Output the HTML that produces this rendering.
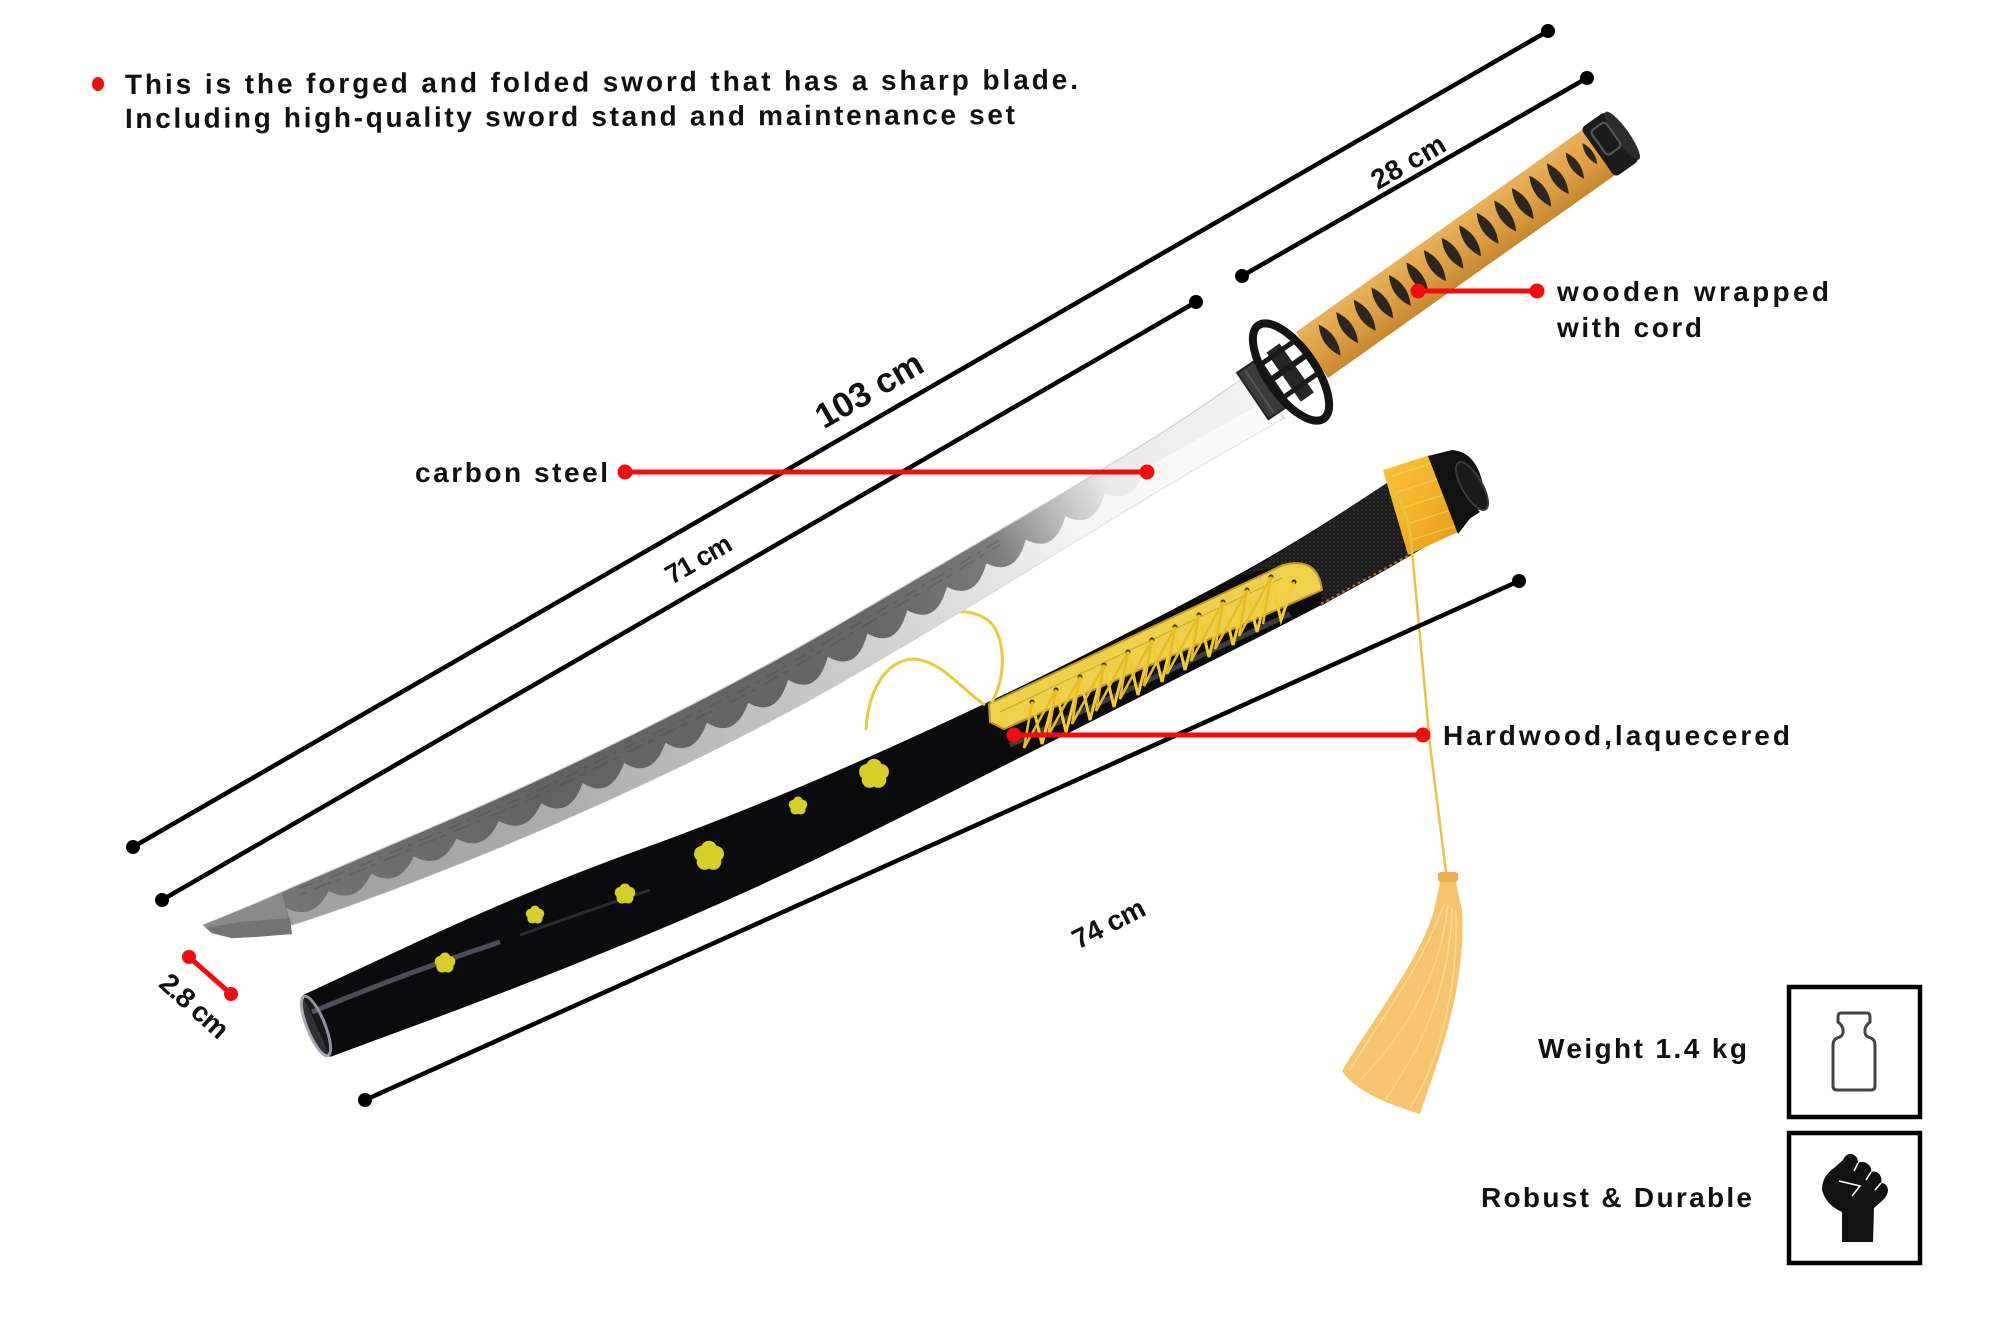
<!DOCTYPE html>
<html><head><meta charset="utf-8">
<style>
html,body{margin:0;padding:0;background:#fff;}
svg{display:block;}
text{font-family:"Liberation Sans",sans-serif;font-weight:bold;fill:#111;}
</style></head><body>
<svg width="2000" height="1331" viewBox="0 0 2000 1331" xmlns="http://www.w3.org/2000/svg">
<defs>
<linearGradient id="g1" gradientUnits="userSpaceOnUse" x1="200" y1="925" x2="1290" y2="380">
<stop offset="0" stop-color="#858585"/><stop offset="0.07" stop-color="#747474"/><stop offset="0.3" stop-color="#626262"/><stop offset="0.6" stop-color="#666666"/><stop offset="0.72" stop-color="#7a7a7a"/><stop offset="0.78" stop-color="#bcbcbc"/><stop offset="0.83" stop-color="#ebebeb"/><stop offset="1" stop-color="#f3f3f3"/>
</linearGradient>
<linearGradient id="g2" gradientUnits="userSpaceOnUse" x1="200" y1="925" x2="1290" y2="380">
<stop offset="0" stop-color="#9c9c9c"/><stop offset="0.3" stop-color="#acacac"/><stop offset="0.55" stop-color="#c8c8c8"/><stop offset="0.7" stop-color="#e2e2e2"/><stop offset="0.8" stop-color="#f6f6f6"/><stop offset="1" stop-color="#fbfbfb"/>
</linearGradient>
<linearGradient id="hg" x1="0" y1="0" x2="0" y2="1">
<stop offset="0" stop-color="#e8b25a"/><stop offset="0.5" stop-color="#dfa044"/><stop offset="1" stop-color="#c68830"/>
</linearGradient>
<linearGradient id="bandg" x1="0" y1="0" x2="1" y2="1">
<stop offset="0" stop-color="#f7c43a"/><stop offset="0.5" stop-color="#f3b22a"/><stop offset="1" stop-color="#e59a18"/>
</linearGradient>
<pattern id="leather" width="4" height="4" patternUnits="userSpaceOnUse"><rect width="4" height="4" fill="#1c1c1c"/><circle cx="2" cy="2" r="0.9" fill="#3b3b3b"/></pattern>
<g id="fl"><circle cx="0" cy="-5" r="5.5"/><circle cx="4.8" cy="-1.5" r="5.5"/><circle cx="3" cy="4" r="5.5"/><circle cx="-3" cy="4" r="5.5"/><circle cx="-4.8" cy="-1.5" r="5.5"/></g>
<clipPath id="bc"><path d="M203,925 L240,910 L295,886 Q350,862 441.5,823 Q533,784 641.5,730 Q750,676 840,623.5 Q930,571 1040,506.5 Q1150,442 1201,407 L1252,372 L1284,418 L1224.5,452 Q1165,486 1056.5,553 Q948,620 856.5,673.5 Q765,727 655,778.5 Q545,830 452.5,866.5 Q360,903 307.5,920 Q255,937 232,938 L212,933 Z"/></clipPath>
</defs>

<!-- ===== SCABBARD ===== -->
<path d="M303,995 L418,941.5 Q533,888 641.5,849 Q750,810 870,756.5 Q990,703 1095,649.5 Q1200,596 1250,568 Q1300,540 1364,498 L1428,456 L1480,512 L1445.5,534 Q1411,556 1366,581 Q1321,606 1224.5,654.5 Q1128,703 1039,748 Q950,793 850,842.5 Q750,892 641.5,937 Q533,982 431.5,1019.5 L330,1057 Z" fill="#0b0b0d"/>
<ellipse cx="316" cy="1026" rx="9" ry="32" transform="rotate(-22 316 1026)" fill="#1a1a1e" stroke="#9da2b0" stroke-width="3" opacity="0.9"/>
<path d="M312,1012 Q400,975 500,942" stroke="#8d93a3" stroke-width="5" fill="none" opacity="0.5"/>
<path d="M520,935 Q590,910 650,890" stroke="#8d93a3" stroke-width="3" fill="none" opacity="0.25"/>
<path d="M1010,745 L1290,614" stroke="#4a4a4e" stroke-width="5" fill="none" opacity="0.8"/>
<!-- flowers -->
<g fill="#d6cf2a">
<use href="#fl" transform="translate(874,774) scale(1.45)"/>
<use href="#fl" transform="translate(798,806) scale(0.9)"/>
<use href="#fl" transform="translate(709,856) scale(1.45)"/>
<use href="#fl" transform="translate(625,894) scale(1)"/>
<use href="#fl" transform="translate(535,915) scale(0.9)"/>
<use href="#fl" transform="translate(445,963) scale(1)"/>
</g>
<!-- leather -->
<path d="M1240,576 L1300,540 L1395,478 L1415,552 L1321,606 L1322,590 Q1318,556 1283,565 Z" fill="url(#leather)"/>
<path d="M1321,604 L1413,553" stroke="#b0702a" stroke-width="2" stroke-dasharray="3,3" fill="none"/>
<!-- plate -->
<path d="M989,704 L1283,565 Q1318,556 1322,590 L1004,729 L990,722 Z" fill="#f0d04a" stroke="#b99a1e" stroke-width="2"/>
<path d="M1000,712 L1282,578" stroke="#c9a82a" stroke-width="1" fill="none"/>
<g fill="#3a3010">
<circle cx="1032" cy="702" r="2.5"/><circle cx="1056" cy="690" r="2.5"/><circle cx="1080" cy="677" r="2.5"/><circle cx="1104" cy="665" r="2.5"/><circle cx="1128" cy="652" r="2.5"/><circle cx="1152" cy="640" r="2.5"/><circle cx="1175" cy="627" r="2.5"/><circle cx="1199" cy="615" r="2.5"/><circle cx="1223" cy="602" r="2.5"/><circle cx="1247" cy="590" r="2.5"/><circle cx="1271" cy="577" r="2.5"/><circle cx="1294" cy="582" r="2.5"/>
</g>
<!-- lacing -->
<polyline fill="none" stroke="#f2cc33" stroke-width="3" points="1032,702 1042,744 1056,690 1066,732 1080,677 1090,720 1104,665 1114,707 1128,652 1138,695 1152,640 1162,682 1175,627 1185,670 1199,615 1209,657 1223,602 1233,645 1247,590 1257,632 1271,577 1281,620 1294,582"/>
<polyline fill="none" stroke="#e6bd28" stroke-width="2.5" points="1032,702 1024,748 1056,690 1048,736 1080,677 1072,724 1104,665 1096,711 1128,652 1120,699 1152,640 1144,686 1175,627 1167,674 1199,615 1191,661 1223,602 1215,649 1247,590 1239,636 1271,577 1263,624"/>
<!-- band -->
<polygon points="1383,470 1430,455 1458,532 1408,555" fill="url(#bandg)"/>
<g stroke="#fbd870" stroke-width="1" opacity="0.7">
<line x1="1392" y1="476" x2="1436" y2="462"/><line x1="1397" y1="492" x2="1441" y2="478"/><line x1="1402" y1="508" x2="1446" y2="494"/><line x1="1407" y1="524" x2="1451" y2="510"/><line x1="1411" y1="540" x2="1455" y2="526"/>
</g>
<!-- cap -->
<path d="M1428,456 L1452,450 Q1478,452 1484,490 Q1484,508 1472,516 L1458,534 Z" fill="#111"/>
<ellipse cx="1472" cy="486" rx="10" ry="27" transform="rotate(-30 1472 486)" fill="#1a1a1a" stroke="#3a3a3a" stroke-width="2"/>
<!-- sageo cords -->
<path d="M991,703 C1006,680 1006,642 992,624 C978,610 958,610 945,614" fill="none" stroke="#ecc93e" stroke-width="3"/>
<path d="M985,705 C962,690 942,661 914,659 C886,660 868,690 866,730" fill="none" stroke="#ecc93e" stroke-width="3"/>
<path d="M1387,482 Q1408,505 1411,540 L1430,745 L1447,880" fill="none" stroke="#e9c245" stroke-width="2.5"/>
<!-- tassel -->
<path d="M1441,878 L1455,878 L1462,910 C1466,985 1442,1050 1420,1114 L1396,1106 C1372,1097 1352,1086 1342,1071 C1372,1020 1420,960 1434,910 Z" fill="#f6c46e"/>
<g stroke="#fbdd9a" stroke-width="1.5" fill="none" opacity="0.8">
<path d="M1448,905 C1440,980 1400,1040 1360,1080"/><path d="M1452,908 C1450,990 1420,1050 1385,1100"/><path d="M1456,910 C1458,990 1440,1060 1410,1108"/><path d="M1444,904 C1420,970 1380,1020 1350,1070"/>
</g>
<rect x="1438" y="872" width="20" height="10" rx="3" fill="#e8ae50"/>

<!-- ===== BLADE ===== -->
<path d="M203,925 L240,910 L295,886 Q350,862 441.5,823 Q533,784 641.5,730 Q750,676 840,623.5 Q930,571 1040,506.5 Q1150,442 1201,407 L1252,372 L1284,418 L1224.5,452 Q1165,486 1056.5,553 Q948,620 856.5,673.5 Q765,727 655,778.5 Q545,830 452.5,866.5 Q360,903 307.5,920 Q255,937 232,938 L212,933 Z" fill="url(#g1)" stroke="#cfcfcf" stroke-width="1.2"/>
<g fill="none" stroke="#4a4a4a" stroke-width="2" opacity="0.3" stroke-dasharray="14 6 4 8">
<polyline points="300,888 351.8,869.4 535.2,792.3 752.7,685.2 933.2,579.8 1000,540"/>
<polyline points="300,895 352.8,873.5 536.4,797 754.2,690.3 934.8,584.4 1000,545" stroke-dasharray="6 9 18 5"/>
</g>
<g clip-path="url(#bc)">
<path transform="translate(1,4)" d="M285,904 Q312,917.5 327.8,887 Q355,901.4 370.4,869.8 Q397.7,885 412.9,852.2 Q440.2,867.4 455.4,834.6 Q482.7,849.8 497.9,817 Q525.1,832.1 540.3,799.2 Q568,816.2 581.7,779.1 Q609.4,796.1 623.1,759 Q650.8,775.9 664.5,738.9 Q692.2,755.9 705.9,718.8 Q733.6,735.8 747.3,698.7 Q775.2,714.8 787.1,675.9 Q816,692.3 826.8,652.7 Q855.7,669.1 866.5,629.5 Q895.4,645.9 906.2,606.3 Q935,622.2 945.9,583 Q974.7,597.2 985.4,559.4 Q1014.2,573.6 1024.9,535.8 Q1053.7,550 1064.4,512.2 Q1093.2,526.4 1103.9,488.6 Q1132.7,502.8 1143.4,465 L1268,395 L1284,418 L1224.5,452 Q1165,486 1056.5,553 Q948,620 856.5,673.5 Q765,727 655,778.5 Q545,830 452.5,866.5 Q360,903 307.5,920 L292,925 Z" fill="url(#g2)"/>
</g>
<polygon points="203,925 240,910 282,893 292,934 255,937 232,938 212,933" fill="#8a8a8a"/>
<polygon points="206,928 240,922 290,918 292,934 255,937 232,938 212,933" fill="#737373"/>
<!-- habaki -->
<g transform="translate(1266,387) rotate(-34)">
<rect x="-16" y="-28" width="26" height="56" fill="#3b3b3b" stroke="#222" stroke-width="2"/>
<line x1="-8" y1="-26" x2="-8" y2="26" stroke="#555" stroke-width="2"/>
</g>
<!-- handle -->
<g transform="translate(1312,355) rotate(-35.25)">
<rect x="0" y="-28" width="356" height="56" fill="url(#hg)"/>
<g fill="#2b2622">
<path d="M23,-21 Q34,-2 23,17 Q12,-2 23,-21Z"/><path d="M44.5,-21 Q55.5,-2 44.5,17 Q33.5,-2 44.5,-21Z"/><path d="M66,-21 Q77,-2 66,17 Q55,-2 66,-21Z"/><path d="M87.5,-21 Q98.5,-2 87.5,17 Q76.5,-2 87.5,-21Z"/><path d="M109,-21 Q120,-2 109,17 Q98,-2 109,-21Z"/><path d="M130.5,-21 Q141.5,-2 130.5,17 Q119.5,-2 130.5,-21Z"/><path d="M152,-21 Q163,-2 152,17 Q141,-2 152,-21Z"/><path d="M173.5,-21 Q184.5,-2 173.5,17 Q162.5,-2 173.5,-21Z"/><path d="M195,-21 Q206,-2 195,17 Q184,-2 195,-21Z"/><path d="M216.5,-21 Q227.5,-2 216.5,17 Q205.5,-2 216.5,-21Z"/><path d="M238,-21 Q249,-2 238,17 Q227,-2 238,-21Z"/><path d="M259.5,-21 Q270.5,-2 259.5,17 Q248.5,-2 259.5,-21Z"/><path d="M281,-21 Q292,-2 281,17 Q270,-2 281,-21Z"/><path d="M302.5,-21 Q313.5,-2 302.5,17 Q291.5,-2 302.5,-21Z"/><path d="M324,-19 Q333,-3 324,13 Q315,-3 324,-19Z"/><path d="M343,-17 Q350,-4 343,9 Q336,-4 343,-17Z"/>
</g>
<rect x="350" y="-30" width="30" height="60" rx="5" fill="#1b1b1b"/>
<ellipse cx="380" cy="0" rx="7" ry="29" fill="#2c2c2c"/>
<rect x="356" y="-22" width="18" height="30" rx="4" fill="none" stroke="#5a5a5a" stroke-width="2"/>
</g>
<!-- tsuba -->
<g transform="translate(1291,372) rotate(-35)">
<ellipse cx="0" cy="0" rx="24" ry="57" fill="none" stroke="#141414" stroke-width="8"/>
<rect x="-9" y="-30" width="16" height="60" fill="#262626"/>
<rect x="-20" y="-8" width="40" height="6" fill="#1a1a1a"/>
<rect x="-20" y="14" width="40" height="5" fill="#1a1a1a"/>
<rect x="-20" y="-26" width="40" height="5" fill="#1a1a1a"/>
</g>

<!-- ===== DIMENSION LINES ===== -->
<g stroke="#000" stroke-width="4.5" stroke-linecap="round">
<line x1="133" y1="847" x2="1548" y2="31"/>
<line x1="1242" y1="276" x2="1587" y2="78"/>
<line x1="162" y1="900" x2="1196" y2="302"/>
<line x1="365" y1="1100" x2="1519" y2="581"/>
</g>
<g fill="#000">
<circle cx="133" cy="847" r="7"/><circle cx="1548" cy="31" r="7"/>
<circle cx="1242" cy="276" r="7"/><circle cx="1587" cy="78" r="7"/>
<circle cx="162" cy="900" r="7"/><circle cx="1196" cy="302" r="7"/>
<circle cx="365" cy="1100" r="7"/><circle cx="1519" cy="581" r="7"/>
</g>
<!-- red callouts -->
<g stroke="#f20c0c" stroke-width="5">
<line x1="625" y1="472" x2="1147" y2="472"/>
<line x1="1418" y1="291" x2="1537" y2="291"/>
<line x1="1014" y1="735" x2="1423" y2="735"/>
<line x1="189" y1="957" x2="231" y2="994"/>
</g>
<g fill="#f20c0c">
<circle cx="625" cy="472" r="7.5"/><circle cx="1147" cy="472" r="7.5"/>
<circle cx="1418" cy="291" r="7.5"/><circle cx="1537" cy="291" r="7.5"/>
<circle cx="1014" cy="735" r="7.5"/><circle cx="1423" cy="735" r="7.5"/>
<circle cx="189" cy="957" r="7"/><circle cx="231" cy="994" r="7"/>
<ellipse cx="98" cy="84" rx="6" ry="7"/>
</g>

<!-- ===== TEXT ===== -->
<text x="125" y="94" font-size="28" textLength="953" lengthAdjust="spacing" transform="rotate(-0.3 125 94)">This is the forged and folded sword that has a sharp blade.</text>
<text x="125" y="128" font-size="28" textLength="890" lengthAdjust="spacing" transform="rotate(-0.25 125 128)">Including high-quality sword stand and maintenance set</text>
<text x="875" y="400" font-size="35" text-anchor="middle" textLength="118" lengthAdjust="spacing" transform="rotate(-30 875 400)">103 cm</text>
<text x="703" y="567" font-size="27" text-anchor="middle" textLength="72" lengthAdjust="spacing" transform="rotate(-30 703 567)">71 cm</text>
<text x="1413" y="170" font-size="28" text-anchor="middle" textLength="81" lengthAdjust="spacing" transform="rotate(-30 1413 170)">28 cm</text>
<text x="1113" y="932" font-size="28" text-anchor="middle" textLength="78" lengthAdjust="spacing" transform="rotate(-27 1113 932)">74 cm</text>
<text x="188" y="1013" font-size="28" text-anchor="middle" textLength="82" lengthAdjust="spacing" transform="rotate(42 188 1013)">2.8 cm</text>
<text x="415" y="482" font-size="28" textLength="193" lengthAdjust="spacing">carbon steel</text>
<text x="1557" y="301" font-size="28" textLength="272" lengthAdjust="spacing">wooden wrapped</text>
<text x="1557" y="337" font-size="28" textLength="145" lengthAdjust="spacing">with cord</text>
<text x="1443" y="745" font-size="28" textLength="347" lengthAdjust="spacing">Hardwood,laquecered</text>
<text x="1538" y="1058" font-size="28" textLength="209" lengthAdjust="spacing">Weight 1.4 kg</text>
<text x="1481" y="1207" font-size="28" textLength="271" lengthAdjust="spacing">Robust &amp; Durable</text>

<!-- ===== ICON BOXES ===== -->
<rect x="1789" y="987" width="131" height="130" fill="none" stroke="#000" stroke-width="4.5"/>
<rect x="1789" y="1133" width="131" height="130" fill="none" stroke="#000" stroke-width="4.5"/>
<path d="M1841,1013 L1867,1013 Q1870,1013 1870,1017 L1870,1022 Q1866,1025 1865,1029 L1865,1033 Q1866,1037 1871,1038 Q1875,1040 1875,1045 L1875,1086 Q1875,1090 1871,1090 L1837,1090 Q1833,1090 1833,1086 L1833,1045 Q1833,1040 1837,1038 Q1842,1037 1843,1033 L1843,1029 Q1842,1025 1838,1022 L1838,1017 Q1838,1013 1841,1013 Z" fill="none" stroke="#444" stroke-width="3"/>
<path d="M1842,1242 L1842,1212 Q1826,1205 1822,1190 Q1822,1176 1834,1168 L1843,1160 Q1846,1153 1852,1154 Q1858,1156 1858,1163 Q1864,1160 1869,1165 Q1872,1168 1871,1172 Q1878,1170 1881,1177 Q1882,1180 1881,1183 Q1887,1183 1888,1190 Q1888,1195 1883,1200 L1874,1208 L1873,1242 Z" fill="#111"/>
<g stroke="#fff" stroke-width="1.6" fill="none">
<path d="M1858,1163 L1854,1171"/><path d="M1871,1172 L1866,1180"/><path d="M1881,1183 L1875,1190"/>
<path d="M1839,1181 L1860,1186 L1852,1196"/>
</g>
</svg>
</body></html>
